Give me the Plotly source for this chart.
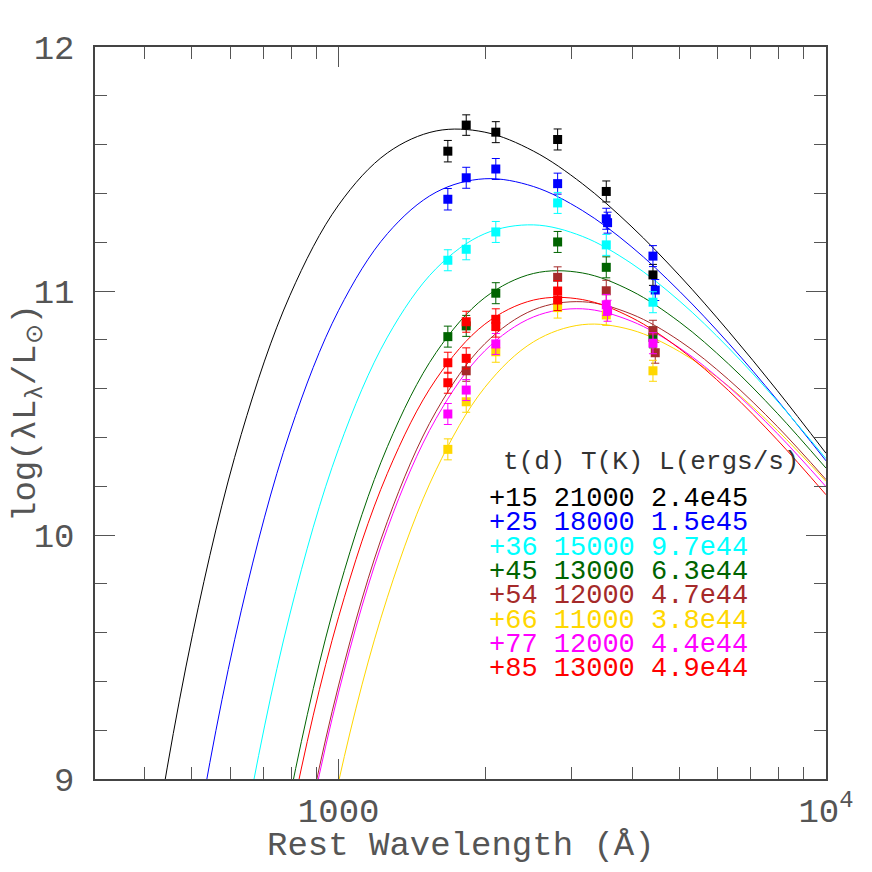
"""
Blackbody fits to the UV/optical SED at each epoch, drawn with Plotly.
"""
import plotly.graph_objects as go

FONT = "Liberation Mono"

# epochs, legend parameters and colours
epochs = ["+15", "+25", "+36", "+45", "+54", "+66", "+77", "+85"]
temps = ["21000", "18000", "15000", "13000", "12000", "11000", "12000", "13000"]
lums = ["2.4e45", "1.5e45", "9.7e44", "6.3e44", "4.7e44", "3.8e44", "4.4e44", "4.9e44"]
colors = ["#000000", "#0000ff", "#00ffff", "#006400",
          "#a52a2a", "#ffd700", "#ff00ff", "#ff0000"]

# blackbody model curves, log(lambda L_lambda / Lsun)
model_wave = [316.2, 398.1, 501.2, 631.0, 794.3, 1000, 1259, 1585,
              1995, 2512, 3162, 3981, 5012, 6310, 7943, 10000]
model_15 = [6.92, 8.454, 9.591, 10.412, 10.982, 11.353, 11.566, 11.656,
            11.651, 11.573, 11.440, 11.266, 11.062, 10.835, 10.592, 10.335]
model_25 = [None, 7.27, 8.664, 9.689, 10.422, 10.921, 11.235, 11.405,
            11.460, 11.428, 11.330, 11.183, 10.998, 10.786, 10.553, 10.304]
model_36 = [None, None, 7.41, 8.718, 9.676, 10.354, 10.811, 11.092,
            11.235, 11.271, 11.224, 11.114, 10.958, 10.767, 10.549, 10.313]
model_45 = [None, None, None, 7.762, 8.929, 9.774, 10.362, 10.748,
            10.973, 11.072, 11.074, 11.001, 10.872, 10.701, 10.499, 10.274]
model_54 = [None, None, None, 7.140, 8.437, 9.385, 10.056, 10.507,
            10.784, 10.923, 10.956, 10.906, 10.795, 10.637, 10.445, 10.227]
model_66 = [None, None, None, None, 7.900, 8.990, 9.745, 10.267,
            10.605, 10.792, 10.862, 10.841, 10.751, 10.610, 10.429, 10.220]
model_77 = [None, None, None, 7.111, 8.408, 9.356, 10.027, 10.478,
            10.755, 10.894, 10.927, 10.877, 10.766, 10.608, 10.416, 10.198]
model_85 = [None, None, None, 7.653, 8.820, 9.665, 10.253, 10.639,
            10.864, 10.963, 10.965, 10.892, 10.763, 10.592, 10.390, 10.165]
models = [model_15, model_25, model_36, model_45,
          model_54, model_66, model_77, model_85]

# photometry (rest wavelength in Angstrom, log lum, error)
wave_15 = [1675, 1827, 2101, 2814, 3541, 4415]
lum_15 = [11.573, 11.680, 11.651, 11.621, 11.408, 11.066]
err_15 = [0.044, 0.042, 0.043, 0.043, 0.043, 0.043]

wave_25 = [1675, 1827, 2101, 2814, 3541, 3563, 4415, 4463]
lum_25 = [11.376, 11.464, 11.500, 11.440, 11.296, 11.280, 11.143, 11.004]
err_25 = [0.044, 0.043, 0.043, 0.043, 0.043, 0.043, 0.043, 0.043]

wave_36 = [1675, 1827, 2101, 2814, 3541, 4415]
lum_36 = [11.126, 11.171, 11.242, 11.361, 11.189, 10.954]
err_36 = [0.043, 0.043, 0.043, 0.043, 0.043, 0.043]

wave_45 = [1675, 1827, 2101, 2814, 3541, 4415]
lum_45 = [10.813, 10.857, 10.991, 11.201, 11.097, 10.810]
err_45 = [0.043, 0.043, 0.043, 0.043, 0.043, 0.043]

wave_54 = [1827, 2814, 3541, 4415, 4463]
lum_54 = [10.673, 11.056, 11.001, 10.837, 10.747]
err_54 = [0.043, 0.043, 0.043, 0.043, 0.043]

wave_66 = [1675, 1827, 2101, 2814, 3541, 4415]
lum_66 = [10.351, 10.546, 10.751, 10.932, 10.902, 10.673]
err_66 = [0.043, 0.043, 0.043, 0.043, 0.043, 0.043]

wave_77 = [1675, 1827, 2101, 3541, 3563, 4415]
lum_77 = [10.496, 10.594, 10.783, 10.943, 10.919, 10.786]
err_77 = [0.043, 0.043, 0.043, 0.043, 0.043, 0.043]

wave_85 = [1675, 1675, 1827, 1827, 2101, 2101, 2814, 2814]
lum_85 = [10.706, 10.624, 10.874, 10.724, 10.884, 10.854, 11.000, 10.963]
err_85 = [0.043, 0.043, 0.043, 0.043, 0.043, 0.043, 0.043, 0.043]

waves = [wave_15, wave_25, wave_36, wave_45, wave_54, wave_66, wave_77, wave_85]
lums_obs = [lum_15, lum_25, lum_36, lum_45, lum_54, lum_66, lum_77, lum_85]
errs = [err_15, err_25, err_36, err_45, err_54, err_66, err_77, err_85]

x_minor = [400, 500, 600, 700, 800, 900,
           2000, 3000, 4000, 5000, 6000, 7000, 8000, 9000]
y_minor = [9.2, 9.4, 9.6, 9.8, 10.2, 10.4, 10.6, 10.8,
           11.2, 11.4, 11.6, 11.8]

# the page body adds an 8px margin, so the figure is 864 px and the
# plot box is placed so it lands at x 95..826, y 47..779 on screen
PAD = 8
L, T, PW, PH = 95 - PAD, 47 - PAD, 731, 732
W = H = 872 - PAD


def px(x):
    return (x - PAD - L) / PW


def py(y):
    return (T + PH - (y - PAD)) / PH


fig = go.Figure()

for model, color in zip(models, colors):
    fig.add_trace(go.Scatter(
        x=model_wave, y=model, mode="lines",
        line=dict(color=color, width=1, shape="spline"),
        connectgaps=False, showlegend=False, hoverinfo="skip"
    ))

for w, l, e, color in zip(waves, lums_obs, errs, colors):
    fig.add_trace(go.Scatter(
        x=w, y=l, mode="markers",
        marker=dict(symbol="square", size=9, color=color, line=dict(width=0)),
        error_y=dict(type="data", array=e, color=color, thickness=1, width=4),
        showlegend=False
    ))

# legend block written as coloured text lines
ann = [dict(text="t(d) T(K) L(ergs/s)", xref="paper", yref="paper",
            x=px(501), y=py(462), xanchor="left",
            yanchor="middle", showarrow=False,
            font=dict(family=FONT, size=26, color="#333333"))]
for i, (ep, t, lum, color) in enumerate(zip(epochs, temps, lums, colors)):
    ann.append(dict(
        text=f"{ep} {t} {lum}", xref="paper", yref="paper",
        x=px(487), y=py(499 + 24.3 * i),
        xanchor="left", yanchor="middle", showarrow=False,
        font=dict(family=FONT, size=27, color=color)
    ))

# axis titles
ann.append(dict(text="Rest Wavelength (Å)", xref="paper", yref="paper",
                x=0.5, y=py(846), xanchor="center", yanchor="middle",
                showarrow=False, font=dict(family=FONT, size=34, color="#555555")))
ann.append(dict(text="log(λL<sub>λ</sub>/L<sub>⊙</sub>)", xref="paper", yref="paper",
                x=px(28), y=0.5, xanchor="center", yanchor="middle",
                textangle=-90, showarrow=False,
                font=dict(family=FONT, size=34, color="#555555")))

axis_common = dict(
    showgrid=False, zeroline=False, showline=True, linecolor="#444444",
    linewidth=1.5, mirror="allticks", ticks="inside", ticklen=20,
    tickcolor="#555555", tickwidth=1,
    tickfont=dict(family=FONT, size=34, color="#555555"),
)

fig.update_layout(
    width=W, height=H,
    margin=dict(l=L, r=W - L - PW, t=T, b=H - T - PH),
    paper_bgcolor="white", plot_bgcolor="white",
    annotations=ann,
    xaxis=dict(
        type="log", range=[2.5, 4.0],
        tickmode="array", tickvals=[1000, 10000], ticktext=["1000", "10<sup>4</sup>"],
        minor=dict(tickmode="array", tickvals=x_minor, ticks="inside",
                   ticklen=12, tickcolor="#555555", tickwidth=1),
        ticklabelstandoff=0,
        **axis_common
    ),
    yaxis=dict(
        range=[9, 12],
        tickmode="array", tickvals=[9, 10, 11, 12], ticktext=["9", "10", "11", "12"],
        minor=dict(tickmode="array", tickvals=y_minor, ticks="inside",
                   ticklen=12, tickcolor="#555555", tickwidth=1),
        ticklabelstandoff=12,
        **axis_common
    ),
)

fig.write_html("out.html")
